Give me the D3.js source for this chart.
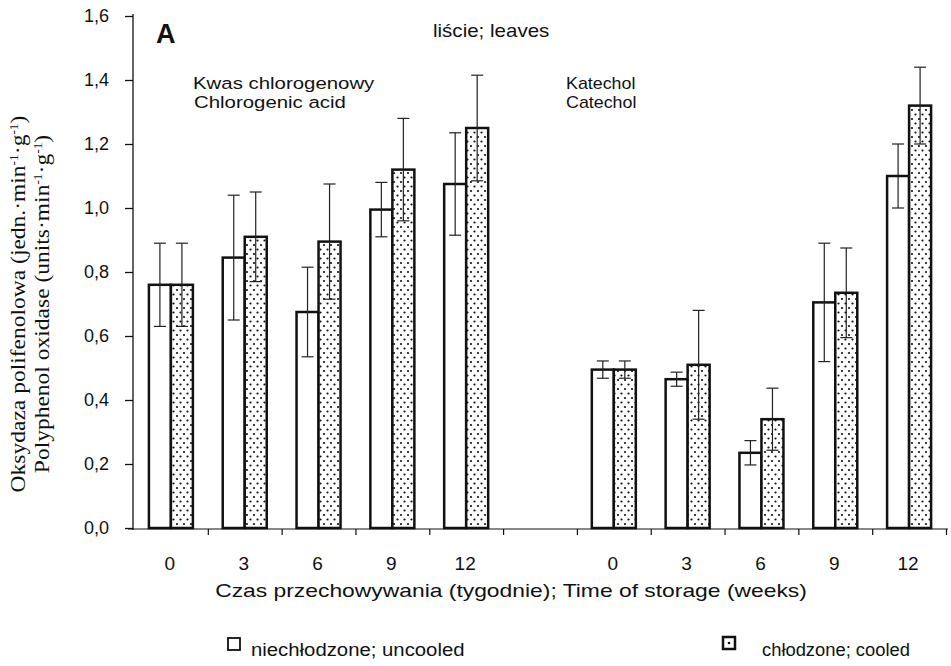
<!DOCTYPE html>
<html>
<head>
<meta charset="utf-8">
<script src="https://cdnjs.cloudflare.com/ajax/libs/d3/7.8.5/d3.min.js"></script>
<style>
  body { margin: 0; background: #fff; }
  svg text { font-family: "Liberation Sans", Arial, sans-serif; fill: #111; }
  .serif { font-family: "Liberation Serif", "Times New Roman", serif !important; }
</style>
</head>
<body>
<svg width="951" height="666"></svg>
<script>
// data
var weeks = ["0", "3", "6", "9", "12"];
var treatments = ["uncooled", "cooled"];
var yTicks = [0, 0.2, 0.4, 0.6, 0.8, 1.0, 1.2, 1.4, 1.6];

var chloroUncooled    = [0.76, 0.845, 0.675, 0.995, 1.075];
var chloroUncooledErr = [0.13, 0.195, 0.14, 0.085, 0.16];
var chloroCooled      = [0.76, 0.91, 0.895, 1.12, 1.25];
var chloroCooledErr   = [0.13, 0.14, 0.18, 0.16, 0.165];

var catUncooled    = [0.495, 0.465, 0.235, 0.705, 1.10];
var catUncooledErr = [0.027, 0.022, 0.038, 0.185, 0.10];
var catCooled      = [0.495, 0.51, 0.34, 0.735, 1.32];
var catCooledErr   = [0.027, 0.17, 0.097, 0.14, 0.12];

var svg = d3.select('svg');

// dot pattern for cooled bars
var defs = svg.append('defs');
var pat = defs.append('pattern')
    .attr('id', 'dots')
    .attr('patternUnits', 'userSpaceOnUse')
    .attr('width', 7).attr('height', 9);
pat.append('rect').attr('width', 7).attr('height', 9).attr('fill', '#fff');
pat.append('circle').attr('cx', 2).attr('cy', 2).attr('r', 1.1).attr('fill', '#111');
pat.append('circle').attr('cx', 5.5).attr('cy', 6.5).attr('r', 1.1).attr('fill', '#111');

// slots: 5 chlorogenic weeks, a gap, 5 catechol weeks
var slots = weeks.map(w => 'c' + w).concat(['gap']).concat(weeks.map(w => 'k' + w));
var slotLabels = weeks.concat(['']).concat(weeks);

var x = d3.scaleBand().domain(slots).range([134, 946]).padding(0);
var x1 = d3.scaleBand().domain(treatments).range([0, 44]).padding(0);
var y = d3.scaleLinear().domain([0, 1.6]).range([528, 16]);

var rows = [];
weeks.forEach(function (w, i) {
    rows.push({ slot: 'c' + w, t: 'uncooled', v: chloroUncooled[i], e: chloroUncooledErr[i] });
    rows.push({ slot: 'c' + w, t: 'cooled', v: chloroCooled[i], e: chloroCooledErr[i] });
    rows.push({ slot: 'k' + w, t: 'uncooled', v: catUncooled[i], e: catUncooledErr[i] });
    rows.push({ slot: 'k' + w, t: 'cooled', v: catCooled[i], e: catCooledErr[i] });
});

var off = (x.bandwidth() - 44) / 2;
var bx = d => x(d.slot) + off + x1(d.t);

// bars
svg.append('g').selectAll('rect')
    .data(rows)
    .enter()
    .append('rect')
    .attr('x', bx)
    .attr('y', d => y(d.v))
    .attr('width', x1.bandwidth())
    .attr('height', d => y(0) - y(d.v))
    .attr('fill', d => d.t == 'cooled' ? 'url(#dots)' : '#fff')
    .attr('stroke', '#111')
    .attr('stroke-width', 2.5);

// error bars
var err = svg.append('g').attr('stroke', '#222').attr('stroke-width', 1.2);
rows.forEach(function (d) {
    var cx = bx(d) + x1.bandwidth() / 2;
    err.append('line').attr('x1', cx).attr('x2', cx).attr('y1', y(d.v - d.e)).attr('y2', y(d.v + d.e));
    err.append('line').attr('x1', cx - 6).attr('x2', cx + 6).attr('y1', y(d.v + d.e)).attr('y2', y(d.v + d.e));
    err.append('line').attr('x1', cx - 6).attr('x2', cx + 6).attr('y1', y(d.v - d.e)).attr('y2', y(d.v - d.e));
});

// y axis
var yAxis = d3.axisLeft(y)
    .tickValues(yTicks)
    .tickSize(8)
    .tickSizeOuter(0)
    .tickPadding(16)
    .tickFormat(d => d3.format('.1f')(d).replace('.', ','));
var ya = svg.append('g').attr('transform', 'translate(133,0)').call(yAxis);
ya.selectAll('text').style('font-size', '18px');
ya.selectAll('path, line').attr('stroke', '#111').attr('stroke-width', 1.3);
ya.select('.domain').attr('d', 'M0,' + (y(1.6) - 2) + 'V' + (y(0) + 2));

// x axis: line with ticks between slots
var xl = d3.scaleLinear().domain([0, slots.length]).range(x.range());
var xAxis = d3.axisBottom(xl)
    .tickValues(d3.range(1, slots.length + 1))
    .tickSize(6)
    .tickSizeOuter(0)
    .tickFormat('');
var xa = svg.append('g').attr('transform', 'translate(0,529)').call(xAxis);
xa.selectAll('path, line').attr('stroke', '#111').attr('stroke-width', 1.2);
xa.select('.domain').attr('d', 'M128,0H948');

// category labels
svg.append('g').selectAll('text')
    .data(slots)
    .enter()
    .append('text')
    .attr('x', d => x(d) + x.bandwidth() / 2 - 1)
    .attr('y', 570)
    .attr('text-anchor', 'middle')
    .style('font-size', '19px')
    .text((d, i) => slotLabels[i]);

// text stretched sideways like the scanned lettering
function label(px, py, size, str, sx, anchor) {
    return svg.append('text')
        .attr('transform', 'translate(' + px + ',' + py + ') scale(' + sx + ',1)')
        .attr('text-anchor', anchor || 'start')
        .style('font-size', size + 'px')
        .text(str);
}

label(156, 43, 27, 'A', 1).style('font-weight', 'bold');
label(433, 37, 18, 'liście; leaves', 1.14);
label(193, 89, 17, 'Kwas chlorogenowy', 1.2);
label(194, 108, 17, 'Chlorogenic acid', 1.2);
label(566, 89, 17, 'Katechol', 1.05);
label(566, 108, 17, 'Catechol', 1.05);
label(511, 597, 18, 'Czas przechowywania (tygodnie); Time of storage (weeks)', 1.27, 'middle');

// y axis title, two lines, rotated
function unitLabel(g, pre, word) {
    var t = g.append('text').attr('class', 'serif').attr('text-anchor', 'middle')
        .attr('transform', 'scale(1.12,1)').style('font-size', '21px');
    t.append('tspan').text(pre + ' (' + word + '·min');
    t.append('tspan').attr('baseline-shift', 'super').style('font-size', '12px').text('-1');
    t.append('tspan').text('·g');
    t.append('tspan').attr('baseline-shift', 'super').style('font-size', '12px').text('-1');
    t.append('tspan').text(')');
    return t;
}
var yt = svg.append('g').attr('transform', 'translate(0,304) rotate(-90)');
unitLabel(yt, 'Oksydaza polifenolowa', 'jedn.').attr('y', 25);
unitLabel(yt, 'Polyphenol oxidase', 'units').attr('y', 49);

// legend
var leg = svg.append('g');
leg.append('rect').attr('x', 228).attr('y', 638).attr('width', 12).attr('height', 12)
    .attr('fill', '#fff').attr('stroke', '#111').attr('stroke-width', 1.8);
label(251, 656, 18, 'niechłodzone; uncooled', 1.13);
leg.append('rect').attr('x', 723).attr('y', 637).attr('width', 12).attr('height', 12)
    .attr('fill', '#fff').attr('stroke', '#111').attr('stroke-width', 2.5);
leg.append('circle').attr('cx', 729).attr('cy', 643).attr('r', 1.3).attr('fill', '#111');
label(762, 656, 18, 'chłodzone; cooled', 1.02);
</script>
</body>
</html>
